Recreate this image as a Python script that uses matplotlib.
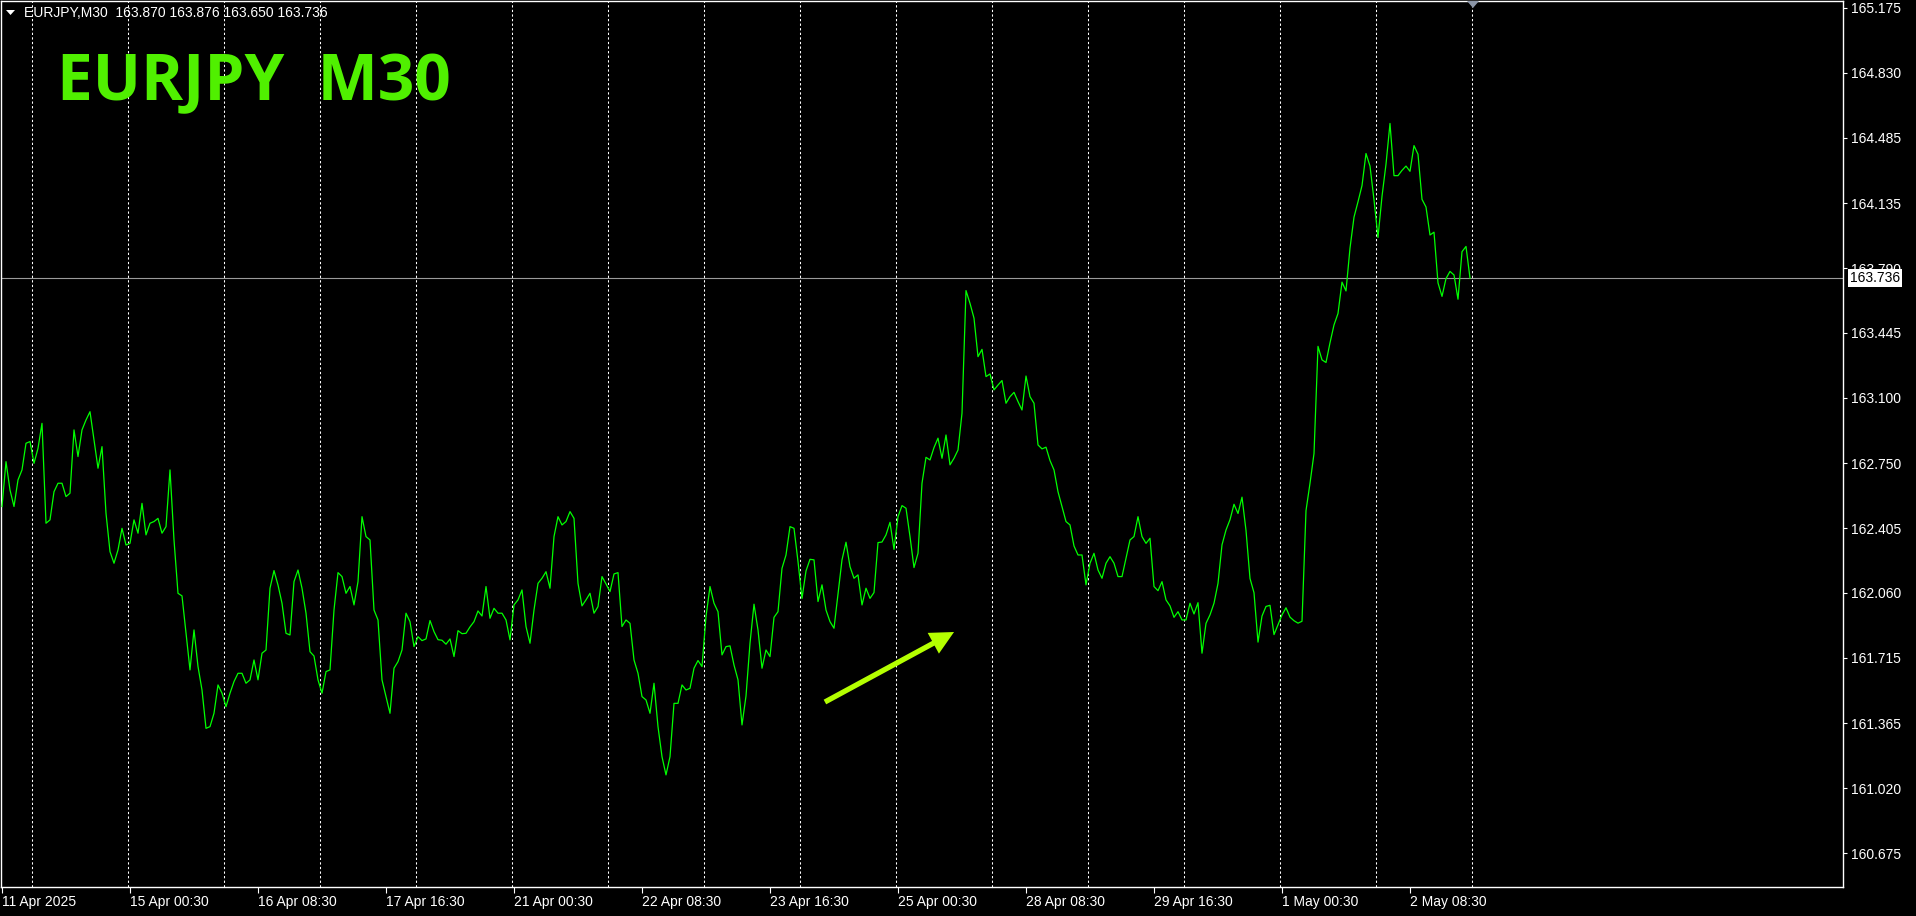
import numpy as np
import matplotlib
matplotlib.use("Agg")
import matplotlib.pyplot as plt
from matplotlib.patches import FancyArrowPatch, Polygon, ArrowStyle
from matplotlib.transforms import blended_transform_factory

# ---------------- data ----------------
symbol = "EURJPY"
timeframe = "M30"
ohlc_last = [163.870, 163.876, 163.650, 163.736]
last_price = 163.736

# closes, one value every 2 M30 bars
bar_step = 2
close = [
    162.520, 162.759, 162.608, 162.520, 162.662, 162.715, 162.857, 162.866, 162.750, 162.830,
    162.963, 162.431, 162.449, 162.599, 162.644, 162.644, 162.573, 162.591, 162.928, 162.786,
    162.928, 162.981, 163.025, 162.875, 162.724, 162.839, 162.484, 162.280, 162.218, 162.289,
    162.404, 162.315, 162.324, 162.449, 162.378, 162.537, 162.369, 162.431, 162.440, 162.457,
    162.378, 162.413, 162.715, 162.342, 162.058, 162.044, 161.845, 161.650, 161.863, 161.668,
    161.543, 161.339, 161.348, 161.419, 161.570, 161.526, 161.454, 161.526, 161.588, 161.632,
    161.632, 161.579,
    161.597, 161.703, 161.597, 161.739, 161.756, 162.085, 162.179, 162.102, 162.005, 161.845,
    161.836, 162.120, 162.182, 162.085, 161.952, 161.747, 161.724, 161.597, 161.526, 161.641,
    161.650, 161.969, 162.168, 162.147, 162.058, 162.094, 161.996, 162.120, 162.466, 162.360,
    162.342, 161.969, 161.916, 161.597, 161.508, 161.419, 161.659, 161.694, 161.756, 161.952,
    161.907, 161.774, 161.827, 161.806, 161.815, 161.913, 161.854, 161.811, 161.808, 161.787,
    161.815, 161.721, 161.859, 161.843, 161.845, 161.879, 161.907, 161.964, 161.937, 162.094,
    161.925,
    161.978, 161.952, 161.952, 161.916, 161.810, 161.996, 162.023, 162.076, 161.881, 161.792,
    161.969, 162.111, 162.138, 162.173, 162.085, 162.360, 162.466, 162.422, 162.440, 162.493,
    162.457, 162.111, 161.991, 162.023, 162.058, 161.952, 161.987, 162.147, 162.108, 162.067,
    162.161, 162.168, 161.881, 161.916, 161.898, 161.703, 161.632, 161.508, 161.490, 161.419,
    161.579, 161.348, 161.188, 161.091, 161.188, 161.472, 161.472, 161.570, 161.543, 161.552,
    161.659, 161.700, 161.668, 161.934, 162.094, 162.005, 161.960, 161.730, 161.774, 161.778,
    161.676, 161.597,
    161.357, 161.511, 161.792, 162.000, 161.863, 161.659, 161.756, 161.721, 161.930, 161.960,
    162.191, 162.262, 162.413, 162.404, 162.227, 162.031, 162.177, 162.239, 162.236, 162.014,
    162.103, 161.969, 161.907, 161.872, 162.055, 162.236, 162.330, 162.200, 162.138, 162.156,
    161.996, 162.085, 162.031, 162.062, 162.328, 162.331, 162.369, 162.436, 162.292, 162.466,
    162.525, 162.511, 162.360, 162.195, 162.271, 162.644, 162.782, 162.768, 162.834, 162.884,
    162.777, 162.901, 162.742, 162.777, 162.821, 163.017, 163.670, 163.602, 163.523, 163.318,
    163.357,
    163.212, 163.226, 163.141, 163.167, 163.191, 163.070, 163.105, 163.128, 163.079, 163.034,
    163.215, 163.105, 163.070, 162.848, 162.827, 162.836, 162.765, 162.715, 162.599, 162.520,
    162.440, 162.422, 162.310, 162.262, 162.262, 162.103, 162.218, 162.271, 162.182, 162.138,
    162.218, 162.253, 162.218, 162.147, 162.147, 162.245, 162.342, 162.360, 162.466, 162.360,
    162.324, 162.351, 162.094, 162.072, 162.120, 162.023, 161.991, 161.930, 161.960, 161.916,
    161.916, 162.005, 161.948, 162.008, 161.739, 161.898, 161.943, 162.005, 162.111, 162.316,
    162.395,
    162.450, 162.532, 162.483, 162.570, 162.393, 162.137, 162.061, 161.798, 161.937, 161.988,
    161.994, 161.838, 161.890, 161.943, 161.981, 161.931, 161.912, 161.899, 161.909, 162.498,
    162.644, 162.802, 163.373, 163.301, 163.287, 163.392, 163.487, 163.548, 163.715, 163.668,
    163.896, 164.061, 164.143, 164.229, 164.400, 164.333, 164.153, 163.953, 164.172, 164.343,
    164.560, 164.282, 164.282, 164.310, 164.333, 164.305, 164.442, 164.396, 164.156, 164.115,
    163.966, 163.981, 163.711, 163.639, 163.734, 163.772, 163.753, 163.624, 163.877, 163.905,
    163.736,
]

xtick_bars = [0, 64, 128, 192, 256, 320, 384, 448, 512, 576, 640, 704]
xtick_labels = ["11 Apr 2025", "15 Apr 00:30", "16 Apr 08:30", "17 Apr 16:30",
                "21 Apr 00:30", "22 Apr 08:30", "23 Apr 16:30", "25 Apr 00:30",
                "28 Apr 08:30", "29 Apr 16:30", "1 May 00:30", "2 May 08:30"]
day_start_bars = [15, 63, 111, 159, 207, 255, 303, 351, 399, 447, 495, 543,
                  591, 639, 687, 735]
ytick_values = [165.175, 164.830, 164.485, 164.135, 163.790, 163.445, 163.100,
                162.750, 162.405, 162.060, 161.715, 161.365, 161.020, 160.675]

# ---------------- figure ----------------
W, H = 1916, 916
UI_FONT = ["Liberation Sans", "DejaVu Sans"]
fig = plt.figure(figsize=(W / 100, H / 100), dpi=100, facecolor="black")
ax = fig.add_axes([1 / W, 29 / H, 1842 / W, 886 / H], facecolor="black")

x = np.arange(len(close)) * bar_step
ax.plot(x, close, color="#00ff00", lw=0.9, zorder=3)

ax.set_xlim(-0.5, 920.5)
ax.set_ylim(160.494, 165.212)

for b in day_start_bars:
    ax.axvline(b, color="white", lw=0.75, ls=(0, (2.2, 2.2)), zorder=1)
ax.axhline(last_price, color="#9a9a9a", lw=0.8, zorder=2)

for s in ax.spines.values():
    s.set_color("white")
    s.set_linewidth(1.0)

ax.yaxis.tick_right()
ax.set_yticks(ytick_values)
ax.set_yticklabels([f"{v:.3f}" for v in ytick_values], fontfamily=UI_FONT)
ax.tick_params(axis="y", right=True, left=False, length=3, width=0.8,
               color="white", labelcolor="white", labelsize=10, pad=3)

ax.set_xticks(xtick_bars)
ax.set_xticklabels(xtick_labels, fontfamily=UI_FONT)
ax.tick_params(axis="x", length=4, width=0.8, color="white",
               labelcolor="white", labelsize=10, pad=2)
for lbl in ax.get_xticklabels():
    lbl.set_horizontalalignment("left")

# current price box on the price scale
ax.annotate(f"{last_price:.3f}", xy=(1.0, last_price),
            xycoords=blended_transform_factory(ax.transAxes, ax.transData),
            xytext=(5, 0), textcoords="offset points", ha="left", va="center",
            color="black", fontsize=10, fontfamily=UI_FONT,
            bbox=dict(boxstyle="square,pad=0.15", fc="white", ec="none"),
            annotation_clip=False, zorder=10)

# arrow annotation
arrow = FancyArrowPatch((0.4473, 0.2088), (0.5174, 0.2878), transform=ax.transAxes,
                        arrowstyle=ArrowStyle.Simple(head_length=17, head_width=17,
                                                     tail_width=3.8),
                        mutation_scale=1, color="#b4ff00", lw=0,
                        shrinkA=0, shrinkB=0, zorder=5)
ax.add_patch(arrow)

# header line
def px(xp, yp):
    return (xp / W, 1 - yp / H)

fig.patches.append(Polygon([px(6, 10), px(15, 10), px(10.5, 15)], closed=True,
                           transform=fig.transFigure, fc="white", ec="none"))
fig.text(24 / W, 1 - 13 / H,
         f"{symbol},{timeframe}  " + " ".join(f"{v:.3f}" for v in ohlc_last),
         color="white", fontsize=10, fontfamily=UI_FONT, va="center", ha="left")

# chart shift marker
fig.patches.append(Polygon([px(1467, 1), px(1479, 1), px(1473, 8)], closed=True,
                           transform=fig.transFigure, fc="#8c96a8", ec="none"))

# big title
fig.text(57 / W, 1 - 100 / H, f"{symbol}  {timeframe}", color="#50f000",
         fontsize=46, fontweight="bold", fontfamily=["Open Sans", "DejaVu Sans"],
         va="baseline", ha="left")

fig.savefig("out.png", dpi=100, facecolor="black")
